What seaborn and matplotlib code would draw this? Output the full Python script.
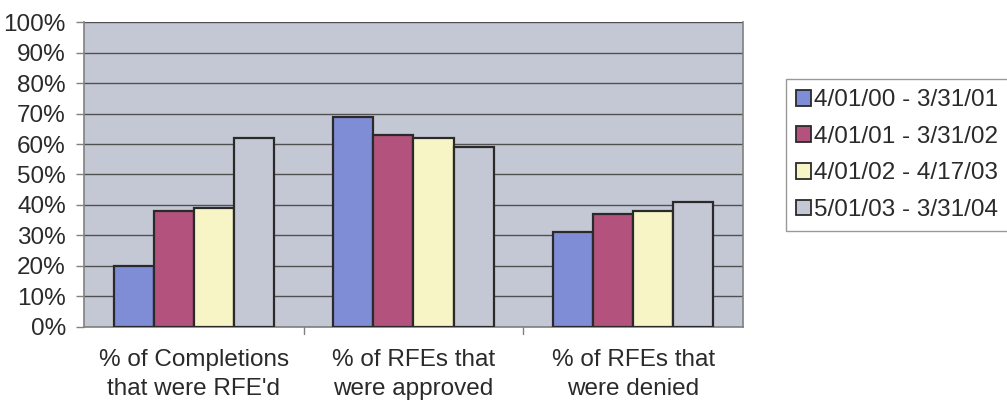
import matplotlib
matplotlib.use("Agg")
import matplotlib.pyplot as plt
import seaborn as sns
import pandas as pd
from matplotlib.patches import Patch

categories = ["% of Completions\nthat were RFE'd",
              "% of RFEs that\nwere approved",
              "% of RFEs that\nwere denied"]
periods = ["4/01/00 - 3/31/01", "4/01/01 - 3/31/02",
           "4/01/02 - 4/17/03", "5/01/03 - 3/31/04"]
period1 = [20, 69, 31]
period2 = [38, 63, 37]
period3 = [39, 62, 38]
period4 = [62, 59, 41]
colors = ["#7F8CD6", "#B3537D", "#F7F5C6", "#C4C8D4"]

rows = []
for name, vals in zip(periods, [period1, period2, period3, period4]):
    for cat, v in zip(categories, vals):
        rows.append({"category": cat, "period": name, "value": v})
df = pd.DataFrame(rows)

sns.set_theme(style="white")
plt.rcParams["font.family"] = ["Liberation Sans", "DejaVu Sans"]

FS = 17.5

fig = plt.figure(figsize=(10.07, 4.05), dpi=100)
ax = fig.add_axes([0.0834, 0.193, 0.6544, 0.7523])
ax.set_facecolor("#C4C8D4")

sns.barplot(data=df, x="category", y="value", hue="period",
            hue_order=periods, palette=colors, width=0.73, gap=0,
            edgecolor="#2a2a2a", linewidth=1.6, saturation=1,
            legend=False, ax=ax, zorder=3)

ax.set_ylim(0, 100)
ax.set_xlim(-0.5, 2.5)
ax.set_yticks(range(0, 101, 10))
ax.set_yticklabels([f"{v}%" for v in range(0, 101, 10)], fontsize=FS,
                   color="#2a2a2a")
ax.set_xticks([0, 1, 2])
ax.set_xticklabels(categories, fontsize=FS, color="#2a2a2a",
                   linespacing=1.38)
ax.tick_params(axis="x", length=0, pad=16)
ax.tick_params(axis="y", length=6, width=1, color="#808080", pad=7,
               left=True, direction="out")

# category separator ticks on the baseline
for xb in [0.5, 1.5]:
    ax.plot([xb, xb], [0, -2.2], color="#808080", lw=1, clip_on=False)

ax.yaxis.grid(True, color="#505050", linewidth=1.0, zorder=0)
ax.set_axisbelow(True)
ax.set_xlabel("")
ax.set_ylabel("")
for side in ["left", "bottom", "right", "top"]:
    ax.spines[side].set_color("#808080")
    ax.spines[side].set_linewidth(1.2)
ax.spines["top"].set_visible(False)

handles = [Patch(facecolor=c, edgecolor="#2a2a2a", linewidth=1.3)
           for c in colors]
leg = fig.legend(handles, periods, loc="upper left",
                 bbox_to_anchor=(0.7805, 0.805), borderaxespad=0,
                 fontsize=FS, frameon=True, fancybox=False,
                 handlelength=0.62, handleheight=0.62, handletextpad=0.12,
                 labelspacing=0.6, borderpad=0.42)
leg.get_frame().set_edgecolor("#808080")
leg.get_frame().set_linewidth(1.0)
for t in leg.get_texts():
    t.set_color("#2a2a2a")

fig.savefig("out.png", dpi=100)
